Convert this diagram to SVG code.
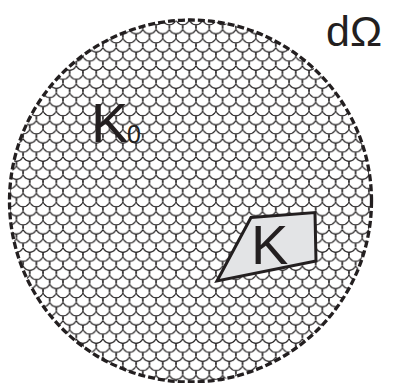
<svg xmlns="http://www.w3.org/2000/svg" width="398" height="383" viewBox="0 0 398 383">
  <style>
    .lbl { font-family: "Liberation Sans", Arial, sans-serif; fill: #231f20; }
    .scale { fill: none; stroke: #1a1718; stroke-width: 1; }
  </style>
  <defs>
    <pattern id="fish" patternUnits="userSpaceOnUse" x="9.8" y="6.7" width="13.3" height="18.2">
      <path class="scale" d="M-13.3,0 A6.95,6.95 0 1 0 0,0 M0,0 A6.95,6.95 0 1 0 13.3,0 M13.3,0 A6.95,6.95 0 1 0 26.6,0 M-6.65,9.1 A6.95,6.95 0 1 0 6.65,9.1 M6.65,9.1 A6.95,6.95 0 1 0 19.95,9.1 M-13.3,-18.2 A6.95,6.95 0 1 0 0,-18.2 M0,-18.2 A6.95,6.95 0 1 0 13.3,-18.2 M13.3,-18.2 A6.95,6.95 0 1 0 26.6,-18.2 M-6.65,-9.1 A6.95,6.95 0 1 0 6.65,-9.1 M6.65,-9.1 A6.95,6.95 0 1 0 19.95,-9.1 M-13.3,18.2 A6.95,6.95 0 1 0 0,18.2 M0,18.2 A6.95,6.95 0 1 0 13.3,18.2 M13.3,18.2 A6.95,6.95 0 1 0 26.6,18.2"/>
    </pattern>
  </defs>
  <rect width="398" height="383" fill="#ffffff"/>
  <g id="K0">
    <circle cx="190.5" cy="201" r="181" fill="url(#fish)" stroke="none"/>
    <circle cx="190.5" cy="201" r="181" fill="none" stroke="#231f20" stroke-width="3.3" stroke-dasharray="7 3"/>
    <text class="lbl" x="91" y="142" font-size="56">K</text>
    <text class="lbl" x="127" y="143" font-size="25">0</text>
  </g>
  <g id="K">
    <polygon points="251,217.5 315,212.5 316,261 217,281" fill="#e3e4e6" stroke="#231f20" stroke-width="3" stroke-linejoin="miter"/>
    <text class="lbl" x="251" y="264" font-size="56">K</text>
  </g>
  <g id="dOmega">
    <text class="lbl" x="326" y="46" font-size="43">dΩ</text>
  </g>
  <g id="connectors"/>
</svg>
